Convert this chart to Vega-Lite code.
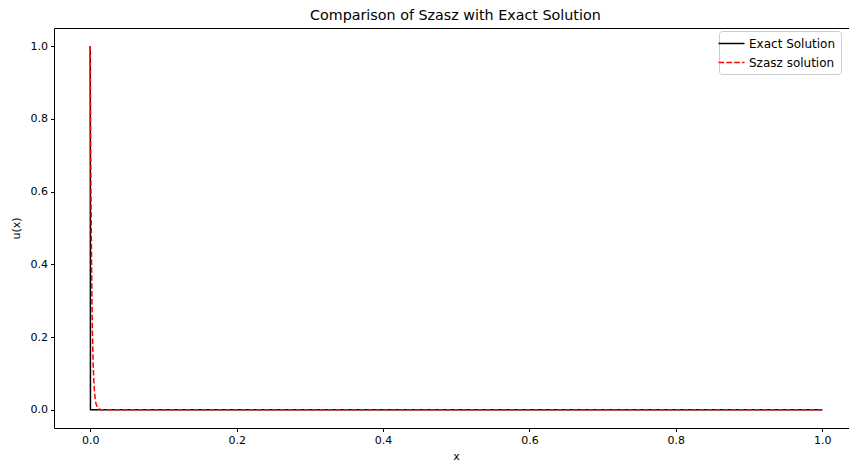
{
  "$schema": "https://vega.github.io/schema/vega-lite/v6.json",
  "width": 840,
  "height": 400,
  "autosize": {"type": "none"},
  "padding": {"left": 54, "top": 28, "right": 0, "bottom": 38},
  "background": "white",
  "title": {"text": "Comparison of Szasz with Exact Solution", "font": "DejaVu Sans", "fontSize": 14.3, "fontWeight": "normal", "color": "black", "offset": 5, "anchor": "start", "dx": 256, "frame": "group"},
  "config": {
    "view": {"stroke": null},
    "axis": {"labelFont": "DejaVu Sans", "labelFontSize": 11, "labelColor": "black", "titleFont": "DejaVu Sans", "titleFontSize": 11, "titleColor": "black", "titleFontWeight": "normal", "grid": false, "domain": true, "domainColor": "black", "domainWidth": 1, "tickColor": "black", "tickSize": 3.5, "labelPadding": 3}
  },
  "data": {"values": [
    {"series": "Exact Solution", "i": 0, "x": 0, "u": 1},
    {"series": "Exact Solution", "i": 1, "x": 0.0003, "u": 0},
    {"series": "Exact Solution", "i": 2, "x": 1, "u": 0},
    {"series": "Szasz solution", "i": 0, "x": 0, "u": 1},
    {"series": "Szasz solution", "i": 1, "x": 0.001, "u": 0.6},
    {"series": "Szasz solution", "i": 2, "x": 0.002, "u": 0.36},
    {"series": "Szasz solution", "i": 3, "x": 0.003, "u": 0.21},
    {"series": "Szasz solution", "i": 4, "x": 0.004, "u": 0.125},
    {"series": "Szasz solution", "i": 5, "x": 0.005, "u": 0.075},
    {"series": "Szasz solution", "i": 6, "x": 0.006, "u": 0.045},
    {"series": "Szasz solution", "i": 7, "x": 0.007, "u": 0.027},
    {"series": "Szasz solution", "i": 8, "x": 0.008, "u": 0.016},
    {"series": "Szasz solution", "i": 9, "x": 0.01, "u": 0.006},
    {"series": "Szasz solution", "i": 10, "x": 0.012, "u": 0.002},
    {"series": "Szasz solution", "i": 11, "x": 0.015, "u": 0.0005},
    {"series": "Szasz solution", "i": 12, "x": 0.02, "u": 0},
    {"series": "Szasz solution", "i": 13, "x": 1, "u": 0}
  ]},
  "layer": [
    {
      "mark": {"type": "line", "strokeWidth": 1.5, "clip": true},
      "encoding": {
        "x": {"field": "x", "type": "quantitative", "title": "x", "scale": {"domain": [-0.0495, 1.098], "nice": false, "zero": false}, "axis": {"values": [0, 0.2, 0.4, 0.6, 0.8, 1.0], "format": ".1f", "titlePadding": 5, "titleX": 402}},
        "y": {"field": "u", "type": "quantitative", "title": "u(x)", "scale": {"domain": [-0.05, 1.05], "nice": false, "zero": false}, "axis": {"values": [0, 0.2, 0.4, 0.6, 0.8, 1.0], "format": ".1f", "titlePadding": 9}},
        "order": {"field": "i", "type": "quantitative"},
        "color": {"field": "series", "type": "nominal", "scale": {"domain": ["Exact Solution", "Szasz solution"], "range": ["black", "red"]}, "legend": {"title": null, "orient": "none", "legendX": 665, "legendY": 3, "symbolType": "M-2,0H2", "symbolSize": 169, "symbolStrokeWidth": 1.5, "symbolFillColor": "transparent", "labelFont": "DejaVu Sans", "labelFontSize": 12, "labelColor": "black", "rowPadding": 5, "labelOffset": 10, "labelExpr": "datum.label + '\u00a0\u00a0\u00a0\u00a0\u00a0\u00a0'", "strokeColor": "#cccccc", "fillColor": "white", "cornerRadius": 3, "padding": 5}},
        "strokeDash": {"field": "series", "type": "nominal", "scale": {"domain": ["Exact Solution", "Szasz solution"], "range": [[1, 0], [5.5, 2.4]]}, "legend": {"title": null, "orient": "none", "legendX": 665, "legendY": 3, "symbolType": "M-2,0H2", "symbolSize": 169, "symbolStrokeWidth": 1.5, "symbolFillColor": "transparent", "labelFont": "DejaVu Sans", "labelFontSize": 12, "labelColor": "black", "rowPadding": 5, "labelOffset": 10, "labelExpr": "datum.label + '\u00a0\u00a0\u00a0\u00a0\u00a0\u00a0'", "strokeColor": "#cccccc", "fillColor": "white", "cornerRadius": 3, "padding": 5}}
      }
    },
    {
      "mark": {"type": "line", "opacity": 0},
      "encoding": {
        "x": {"field": "x", "type": "quantitative", "scale": {"domain": [-0.0495, 1.098], "nice": false, "zero": false}, "axis": {"orient": "top", "title": null, "labels": false, "ticks": false, "domain": true}},
        "y": {"field": "u", "type": "quantitative", "scale": {"domain": [-0.05, 1.05], "nice": false, "zero": false}}
      }
    }
  ],
  "resolve": {"axis": {"x": "independent"}}
}
